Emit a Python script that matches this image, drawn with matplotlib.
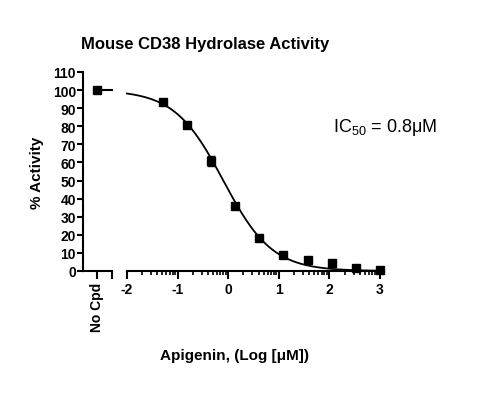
import numpy as np
import matplotlib
matplotlib.use("Agg")
import matplotlib.pyplot as plt

plt.rcParams['font.family'] = ['Liberation Sans', 'DejaVu Sans']

# dados
log_conc = [-1.293, -0.816, -0.339, 0.138, 0.615, 1.092, 1.569, 2.046, 2.523, 3.0]
atividade = [93.5, 80.8, 60.8, 36.0, 18.3, 9.0, 6.0, 4.4, 1.5, 0.8]
erro = [1.0, 0.8, 3.0, 1.0, 0.8, 0.8, 0.6, 0.6, 0.5, 0.5]
sem_cpd = 100.2

# parâmetros do ajuste (dose-resposta)
top, bottom = 100.0, 0.0
log_ic50 = np.log10(0.8)
hill = 0.9

def dose_resposta(x):
    return bottom + (top - bottom) / (1 + 10 ** ((x - log_ic50) * hill))

W, H = 485, 410
fig = plt.figure(figsize=(W / 100, H / 100), dpi=100)
bot = (H - 272) / H
alt = 199 / H
ax0 = fig.add_axes([83 / W, bot, 29 / W, alt])
ax = fig.add_axes([127 / W, bot, 253 / W, alt])

lw = 1.5
for a in (ax0, ax):
    a.set_ylim(0, 110)
    for s in ('top', 'right'):
        a.spines[s].set_visible(False)
    a.spines['bottom'].set_linewidth(lw)
    a.spines['left'].set_linewidth(lw)

# eixo da esquerda (No Cpd)
ax0.set_xlim(0, 1)
ax0.set_xticks([0.5, 1.0])
ax0.set_xticklabels(['No Cpd', ''], rotation=90, fontweight='bold', fontsize=10)
ax0.tick_params(axis='x', length=6, width=lw, direction='out', pad=2)
ax0.set_yticks(np.arange(0, 111, 10))
ax0.set_yticklabels([str(v) for v in range(0, 111, 10)], fontweight='bold', fontsize=10)
ax0.tick_params(axis='y', length=4, width=lw, pad=1)
ax0.plot([0.5], [sem_cpd], 's', color='black', ms=5.5, clip_on=False)
ax0.plot([0.5, 1.0], [sem_cpd, sem_cpd], color='black', lw=1.5, clip_on=False)
ax0.set_ylabel('% Activity', fontweight='bold', fontsize=11, labelpad=6)

# eixo principal
ax.spines['left'].set_visible(False)
ax.set_yticks([])
ax.set_xlim(-2, 3)
ax.set_xticks([-2, -1, 0, 1, 2, 3])
ax.set_xticklabels(['-2', '-1', '0', '1', '2', '3'], fontweight='bold', fontsize=10)
minor = [k + np.log10(m) for k in range(-2, 3) for m in range(2, 10)]
ax.set_xticks(minor, minor=True)
ax.tick_params(axis='x', which='major', length=6, width=lw, pad=2)
ax.tick_params(axis='x', which='minor', length=3, width=1.2)

xf = np.linspace(-2, 3, 300)
ax.plot(xf, dose_resposta(xf), color='black', lw=1.3, clip_on=False)
ax.errorbar(log_conc, atividade, yerr=erro, fmt='s', color='black', ms=5.5,
            capsize=3, elinewidth=1, clip_on=False)

ax.set_xlabel('Apigenin, (Log [μM])', fontweight='bold', fontsize=11)
ax.xaxis.set_label_coords(108 / 253, -77 / 199)

fig.text(205 / W, 1 - 45 / H, 'Mouse CD38 Hydrolase Activity', ha='center', va='center',
         fontweight='bold', fontsize=12)
fig.text(333 / W, 1 - 127 / H, r'IC$_\mathregular{50}$ = 0.8μM', ha='left', va='center',
         fontsize=13)

fig.savefig('out.png', dpi=100)
